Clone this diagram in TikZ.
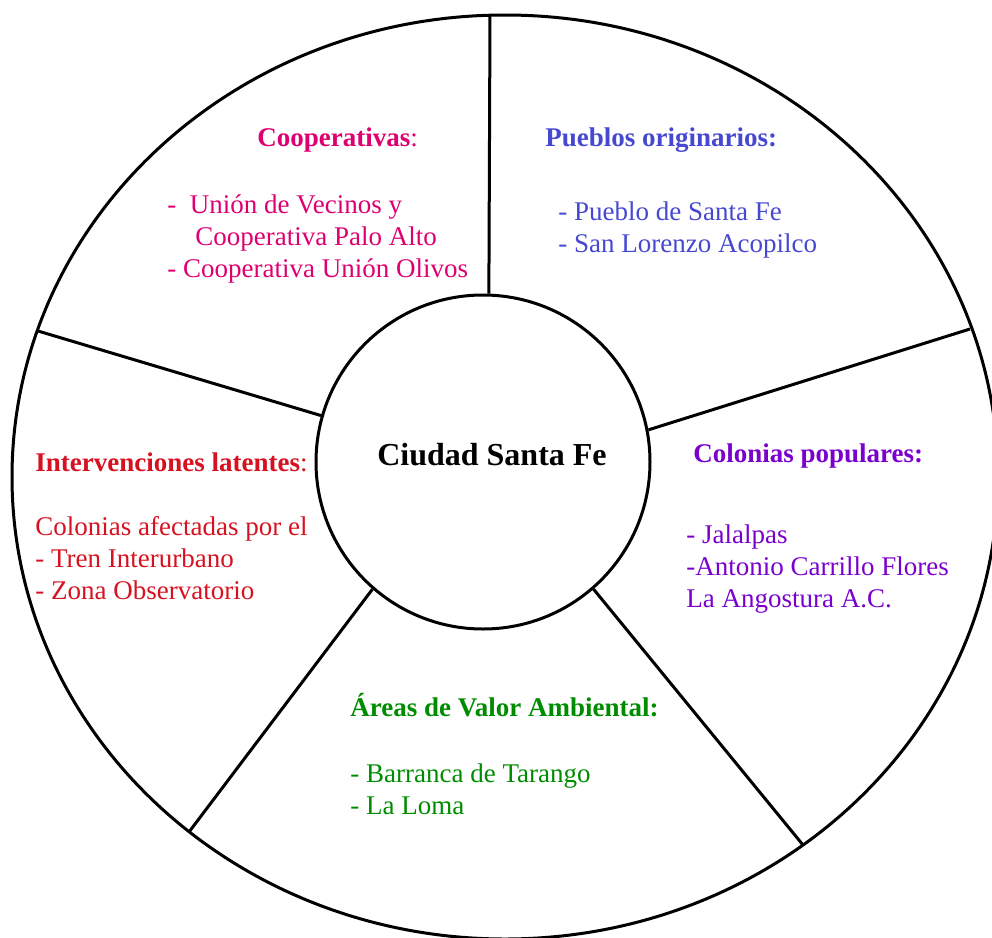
\documentclass[tikz,border=0pt]{standalone}
\usepackage{fontspec}
\setmainfont{Liberation Serif}
\usepackage{tikz}

\definecolor{coopcol}{RGB}{222,0,112}
\definecolor{pueblocol}{RGB}{70,72,210}
\definecolor{latentcol}{RGB}{214,18,32}
\definecolor{popcol}{RGB}{122,0,206}
\definecolor{areacol}{RGB}{0,140,0}

\tikzset{
  ring/.style={line width=1.5pt},
  spoke/.style={line width=1.5pt},
  hub/.style={circle,draw,line width=1.5pt,minimum size=167pt,inner sep=0pt},
  head/.style={anchor=base west,inner sep=0pt,font=\fontsize{13.5}{16}\selectfont},
  items/.style={anchor=north west,inner sep=0pt,align=left,font=\fontsize{13.5}{16}\selectfont},
}

\begin{document}
\begin{tikzpicture}[x=0.5pt,y=-0.5pt]
    \useasboundingbox (0,0) rectangle (992,938);

    \draw[ring] (505,477) ellipse [x radius=246.5pt, y radius=231pt];
    \node[hub] (hub) at (483,462) {};
    \node[font=\fontsize{16}{19}\selectfont\bfseries] (city) at (492,455) {Ciudad Santa Fe};

    \coordinate (otop) at (490,15);
    \coordinate (oright) at (970,329);
    \coordinate (olowright) at (803,845);
    \coordinate (olowleft) at (189,832);
    \coordinate (oleft) at (38,331);

    \draw[spoke] (hub.88) -- (otop);
    \draw[spoke] (hub.11) -- (oright);
    \draw[spoke] (hub.-49) -- (olowright);
    \draw[spoke] (hub.-131) -- (olowleft);
    \draw[spoke] (hub.164) -- (oleft);

    \node[head,text=coopcol] (coophead) at (257,146) {\textbf{Cooperativas}:};
    \node[items,text=coopcol] (cooplist) at (167,194) {-~~Unión de Vecinos y\\\hspace*{14pt}Cooperativa Palo Alto\\- Cooperativa Unión Olivos};

    \node[head,text=pueblocol] (pueblohead) at (545,146) {\textbf{Pueblos originarios:}};
    \node[items,text=pueblocol] (pueblolist) at (558,201) {- Pueblo de Santa Fe\\- San Lorenzo Acopilco};

    \node[head,text=latentcol] (latenthead) at (35,471) {\textbf{Intervenciones latentes}:};
    \node[items,text=latentcol] (latentlist) at (35,516) {Colonias afectadas por el\\- Tren Interurbano\\- Zona Observatorio};

    \node[head,text=popcol] (pophead) at (693,462) {\textbf{Colonias populares:}};
    \node[items,text=popcol] (poplist) at (686,524) {- Jalalpas\\-Antonio Carrillo Flores\\La Angostura A.C.};

    \node[head,text=areacol] (areahead) at (350,716) {\textbf{Áreas de Valor Ambiental:}};
    \node[items,text=areacol] (arealist) at (350,763) {- Barranca de Tarango\\- La Loma};

\end{tikzpicture}
\end{document}
